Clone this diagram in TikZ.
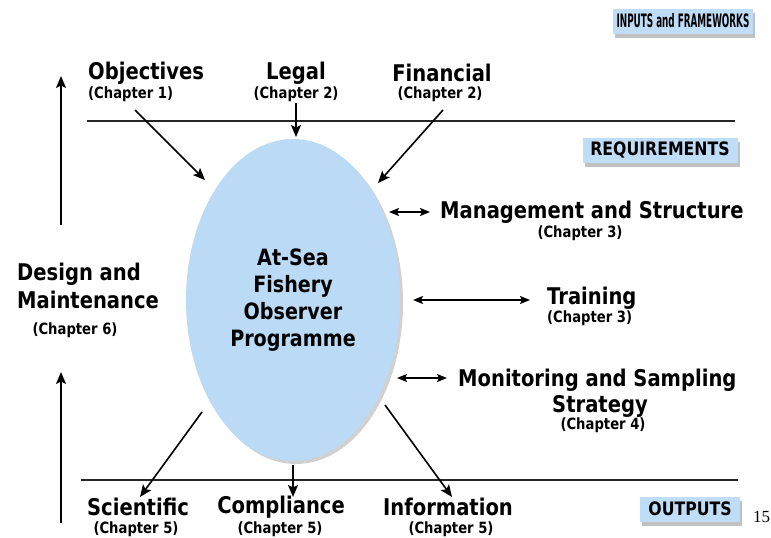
\documentclass[tikz,border=0pt]{standalone}
\usepackage{fontspec}
\setmainfont{DejaVu Sans}[FakeStretch=0.85]
\newfontfamily\pagefont{Liberation Serif}
\usetikzlibrary{arrows.meta,shapes.geometric,shadows}
\definecolor{progblue}{HTML}{BBDAF6}
\definecolor{tagblue}{HTML}{C0DDF8}
\begin{document}
\begin{tikzpicture}[x=1pt,y=-1pt,
  lbl/.style={font=\fontsize{23}{28}\selectfont\bfseries, inner sep=0pt},
  chap/.style={font=\fontsize{15.5}{18}\selectfont\bfseries, inner sep=0pt},
  tag/.style={fill=tagblue, inner sep=0pt, minimum height=25pt,
    font=\fontsize{18.5}{20}\selectfont\bfseries,
    drop shadow={shadow xshift=2pt, shadow yshift=-4pt, opacity=0.35, fill=black!70}},
  arr/.style={line width=1.6pt, -{Stealth[length=12pt,width=10pt,inset=2.5pt]}},
  darr/.style={line width=1.6pt, {Stealth[length=10pt,width=8pt,inset=2pt]}-{Stealth[length=10pt,width=8pt,inset=2pt]}},
  rulel/.style={line width=1.4pt, black!85}]
\useasboundingbox (0,0) rectangle (771,538);

% central ellipse
\node[ellipse, fill=progblue, minimum width=214pt, minimum height=322pt, inner sep=0pt,
  align=center, font=\fontsize{22.5}{26.8}\selectfont\bfseries,
  drop shadow={shadow xshift=3pt, shadow yshift=-3pt, opacity=0.3, fill=black!60}]
  (prog) at (293,300) {At-Sea\\Fishery\\Observer\\Programme};

% horizontal rules
\coordinate (t1) at (87,121);  \coordinate (t2) at (735,121);
\coordinate (b1) at (81,480);  \coordinate (b2) at (738,480);
\draw[rulel] (t1) -- (t2);
\draw[rulel] (b1) -- (b2);

% tags
\node[tag, minimum width=140pt] (tagin) at (683,21) {\scalebox{0.56}[1]{INPUTS and FRAMEWORKS}};
\node[tag, minimum width=155pt] (tagreq) at (660,150) {REQUIREMENTS};
\node[tag, minimum width=100pt] (tagout) at (690,509) {OUTPUTS};
\node[font=\pagefont\fontsize{17}{20}\selectfont, inner sep=0pt, anchor=west] (pnum) at (753,517) {15};

% inputs
\node[lbl, anchor=west] (obj) at (88,73) {Objectives};
\node[chap, anchor=west] (objc) at (88,94) {(Chapter 1)};
\node[lbl] (legal) at (296,73) {Legal};
\node[chap] (legalc) at (296,94) {(Chapter 2)};
\node[lbl] (fin) at (442,73) {Financial};
\node[chap] (finc) at (440,94) {(Chapter 2)};

\coordinate (objs) at (135,110); \coordinate (objt) at (205,180);
\coordinate (legs) at (296,103); \coordinate (legt) at (296,137);
\coordinate (fins) at (443,110); \coordinate (fint) at (378,183);
\draw[arr] (objs) -- (objt);
\draw[arr] (legs) -- (legt);
\draw[arr] (fins) -- (fint);

% requirements
\node[lbl, anchor=west] (mgmt) at (440,212) {Management and Structure};
\node[chap] (mgmtc) at (580,233) {(Chapter 3)};
\node[lbl, anchor=west] (train) at (547,298) {Training};
\node[chap, anchor=west] (trainc) at (547,318) {(Chapter 3)};
\node[lbl, anchor=west] (mon) at (458,380) {Monitoring and Sampling};
\node[lbl] (strat) at (600,406) {Strategy};
\node[chap] (monc) at (603,425) {(Chapter 4)};

\coordinate (m1) at (389,212); \coordinate (m2) at (430,212);
\coordinate (tr1) at (413,300); \coordinate (tr2) at (530,300);
\coordinate (mo1) at (397,378); \coordinate (mo2) at (447,378);
\draw[darr] (m1) -- (m2);
\draw[darr] (tr1) -- (tr2);
\draw[darr] (mo1) -- (mo2);

% design and maintenance
\node[lbl, anchor=west, align=left] (design) at (17,286) {Design and\\Maintenance};
\node[chap] (designc) at (75,330) {(Chapter 6)};
\coordinate (u1s) at (61,225); \coordinate (u1t) at (61,76);
\coordinate (u2s) at (61,523); \coordinate (u2t) at (61,372);
\draw[arr] (u1s) -- (u1t);
\draw[arr] (u2s) -- (u2t);

% outputs
\node[lbl] (sci) at (138,507) {Scientific};
\node[chap] (scic) at (136,529) {(Chapter 5)};
\node[lbl] (comp) at (281,507) {Compliance};
\node[chap] (compc) at (280,529) {(Chapter 5)};
\node[lbl] (info) at (448,507) {Information};
\node[chap] (infoc) at (451,529) {(Chapter 5)};

\coordinate (ss) at (202,412); \coordinate (st) at (140,497);
\coordinate (cs) at (293,465); \coordinate (ct) at (293,497);
\coordinate (is) at (385,405); \coordinate (it) at (452,497);
\draw[arr] (ss) -- (st);
\draw[arr] (cs) -- (ct);
\draw[arr] (is) -- (it);
\end{tikzpicture}
\end{document}
